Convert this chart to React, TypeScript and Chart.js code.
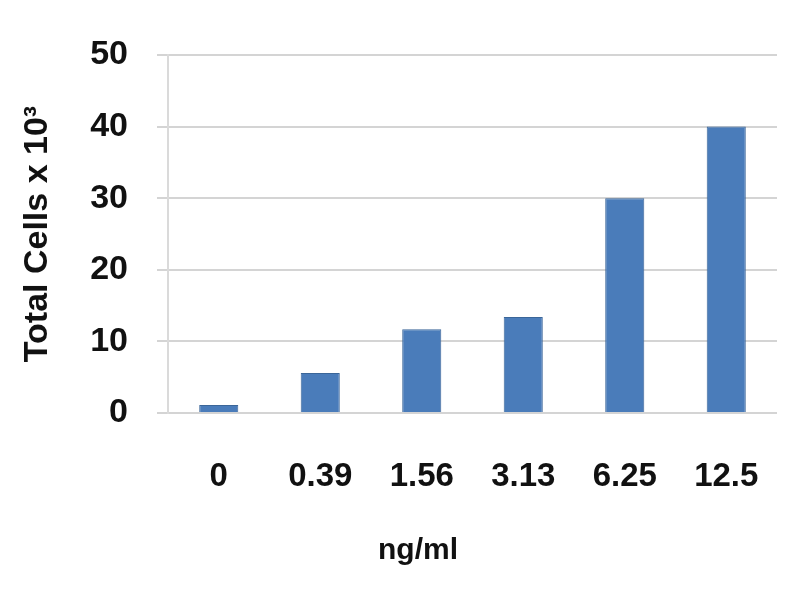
import React, { useEffect, useRef } from "react";
import { Chart, registerables } from "chart.js";

Chart.register(...registerables);

const categories = ["0", "0.39", "1.56", "3.13", "6.25", "12.5"];
const totalCells = [1.1, 5.6, 11.7, 13.4, 30, 40];
const yTitle = "Total Cells x 10³";
const xTitle = "ng/ml";

const FONT = "'Liberation Sans', Arial, sans-serif";

export default function App() {
  const ref = useRef<HTMLCanvasElement | null>(null);

  useEffect(() => {
    if (!ref.current) return;
    const xTitlePlugin = {
      id: "xTitleText",
      afterDraw(chart: any) {
        const ctx = chart.ctx;
        ctx.save();
        ctx.font = `bold 30px ${FONT}`;
        ctx.fillStyle = "#111";
        ctx.textAlign = "center";
        ctx.textBaseline = "middle";
        ctx.fillText(xTitle, 418, 551);
        ctx.restore();
      },
    };
    const chart = new Chart(ref.current, {
      type: "bar",
      data: {
        labels: categories,
        datasets: [
          {
            data: totalCells,
            backgroundColor: "#4a7cba",
            borderColor: "#3b6699",
            borderWidth: 1,
            categoryPercentage: 1,
            barPercentage: 0.385,
          },
        ],
      },
      options: {
        animation: false,
        responsive: false,
        maintainAspectRatio: false,
        layout: { padding: { left: 0, right: 23, top: 55, bottom: 0 } },
        plugins: {
          legend: { display: false },
          tooltip: { enabled: false },
        },
        scales: {
          x: {
            grid: { display: false, drawTicks: false },
            border: { display: false },
            ticks: {
              color: "#111",
              padding: 44,
              font: { family: FONT, size: 33, weight: "bold" },
            },
            afterFit: (scale: any) => {
              scale.height = 187;
              scale.paddingLeft = 0;
              scale.paddingRight = 0;
            },
          },
          y: {
            min: 0,
            max: 50,
            ticks: {
              stepSize: 10,
              color: "#111",
              padding: 29,
              font: { family: FONT, size: 34, weight: "bold" },
            },
            grid: {
              color: "#d4d4d4",
              lineWidth: 2,
              tickLength: 11,
            },
            border: { display: true, color: "#dadada", width: 2 },
            title: {
              display: true,
              text: yTitle,
              color: "#111",
              padding: { top: 17, bottom: 0 },
              font: { family: FONT, size: 34, weight: "bold" },
            },
            afterFit: (scale: any) => {
              scale.width = 168;
            },
          },
        },
      },
      plugins: [xTitlePlugin],
    });
    return () => chart.destroy();
  }, []);

  return (
    <div style={{ position: "fixed", left: 0, top: 0, width: 800, height: 600, background: "#fff" }}>
      <canvas ref={ref} width={800} height={600} style={{ width: 800, height: 600 }} />
    </div>
  );
}
